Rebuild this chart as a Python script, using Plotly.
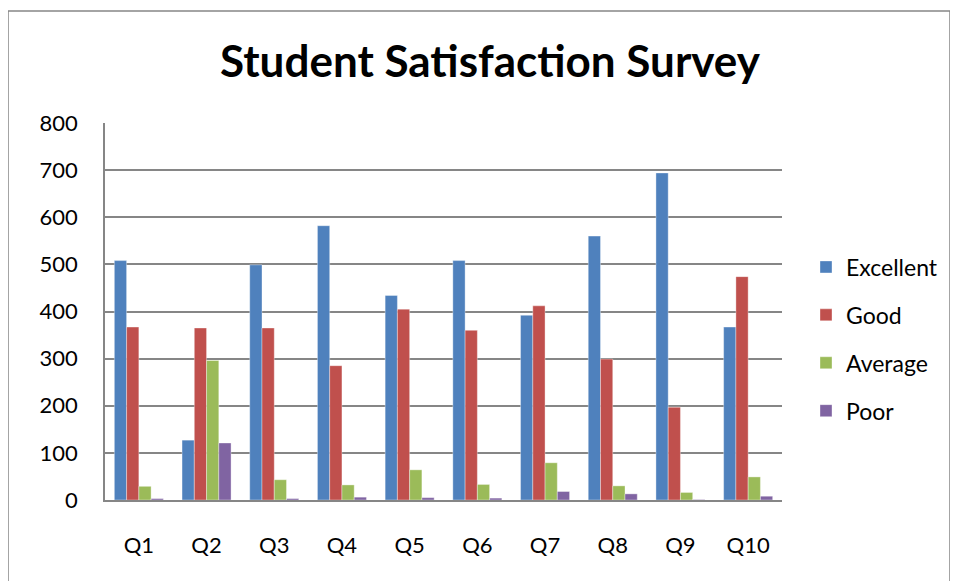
import plotly.graph_objects as go

questions = ["Q1", "Q2", "Q3", "Q4", "Q5", "Q6", "Q7", "Q8", "Q9", "Q10"]
excellent = [508, 127, 499, 582, 434, 508, 392, 560, 694, 367]
good = [367, 365, 365, 285, 405, 360, 412, 299, 197, 474]
average = [29, 296, 43, 32, 64, 33, 79, 30, 16, 49]
poor = [3, 121, 3, 6, 5, 4, 18, 13, 1, 8]

series_names = ["Excellent", "Good", "Average", "Poor"]
series_values = [excellent, good, average, poor]
colors = ["#4F81BD", "#C0504D", "#9BBB59", "#8064A2"]

FONT = "Lato, 'Open Sans', sans-serif"

fig = go.Figure()
for name, vals, col in zip(series_names, series_values, colors):
    fig.add_trace(go.Bar(
        x=questions, y=vals, name=name,
        marker=dict(color=col, line=dict(color="rgba(255,255,255,0.6)", width=0.6)),
        legendgroup=name,
    ))

OFF = 8  # page body margin
W, H = 950, 573
L, T = 105 - OFF, 123 - OFF
R = W - (782 - OFF)
B = H - (500 - OFF)
pw = W - L - R
ph = H - T - B

def px_x(p):  # page pixel -> paper x
    return (p - OFF - L) / pw

def px_y(p):  # page pixel -> paper y
    return (H - B - (p - OFF)) / ph

fig.update_layout(
    width=W, height=H,
    margin=dict(l=L, r=R, t=T, b=B, autoexpand=False),
    paper_bgcolor="white", plot_bgcolor="white",
    barmode="group", bargap=0.276, bargroupgap=0,
    font=dict(family=FONT, size=22, color="black"),
    title=dict(text="<b>Student Satisfaction Survey</b>", x=(490 - OFF) / W, xanchor="center",
               y=1 - (62 - OFF) / H, yanchor="middle", yref="container",
               font=dict(family=FONT, size=44, color="black")),
    legend=dict(x=px_x(806), xanchor="left", y=px_y(339), yanchor="middle",
                font=dict(family=FONT, size=23, color="black"),
                traceorder="grouped", tracegroupgap=15, bgcolor="rgba(0,0,0,0)"),
    xaxis=dict(showgrid=False, showline=True, linecolor="#868686", linewidth=1.5,
               ticks="outside", ticklen=25, tickcolor="rgba(0,0,0,0)",
               tickfont=dict(family=FONT, size=22, color="black")),
    yaxis=dict(range=[0, 800], dtick=100, showgrid=True, gridcolor="#868686", gridwidth=1.5,
               zeroline=False, showline=True, linecolor="#868686", linewidth=1.5,
               ticks="outside", ticklen=21, tickcolor="rgba(0,0,0,0)",
               tickfont=dict(family=FONT, size=22, color="black")),
    shapes=[dict(type="rect", xref="paper", yref="paper",
                 x0=px_x(8), x1=px_x(950), y0=px_y(600), y1=px_y(11),
                 line=dict(color="#868686", width=1.5), fillcolor="rgba(0,0,0,0)", layer="below")],
)

fig.write_html("out.html")
